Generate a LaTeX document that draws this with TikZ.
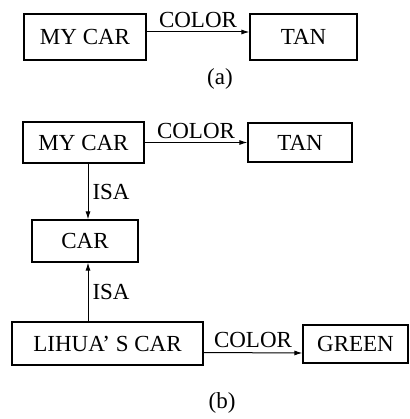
\documentclass[tikz,border=0pt]{standalone}
\usepackage{fontspec}
\setmainfont{Liberation Serif}
\usetikzlibrary{arrows.meta}
\begin{document}
\begin{tikzpicture}[x=1pt,y=-1pt,
  box/.style={draw,line width=1.2pt,inner sep=0pt,font=\fontsize{23}{26}\selectfont},
  lbl/.style={inner sep=0pt,font=\fontsize{23}{26}\selectfont},
  con/.style={line width=1pt,-{Latex[length=8pt,width=5pt]}}]
\useasboundingbox (0,0) rectangle (409,419);
% (a)
\node[box,minimum width=122pt,minimum height=46pt] (a1) at (85,37) {MY CAR};
\node[box,minimum width=107pt,minimum height=46pt] (a2) at (303.5,37) {TAN};
\draw[con] ([yshift=5pt]a1.east) -- node[lbl,above=4pt] (ac) {COLOR} ([yshift=5pt]a2.west);
\node[lbl] (la) at (220,79) {(a)};
% (b)
\node[box,minimum width=121pt,minimum height=41pt] (b1) at (83.5,142.5) {MY CAR};
\node[box,minimum width=104pt,minimum height=39pt] (b2) at (300,142.5) {TAN};
\draw[con] (b1.east) -- node[lbl,above=3pt] (bc) {COLOR} (b2.west);
\node[box,minimum width=106pt,minimum height=42pt] (car) at (85,241) {CAR};
\draw[con] ([xshift=4.5pt]b1.south) -- node[lbl,right=4pt] (isa1) {ISA} ([xshift=3pt]car.north);
\node[box,minimum width=191pt,minimum height=43pt] (li) at (107.5,343.5) {LIHUA’ S CAR};
\node[box,minimum width=105pt,minimum height=38pt] (gr) at (355.5,344) {GREEN};
\draw[con] ([xshift=-19.5pt]li.north) -- node[lbl,right=4pt] (isa2) {ISA} ([xshift=3pt]car.south);
\draw[con] ([yshift=-9pt]li.east) -- node[lbl,above=5pt] (gc) {COLOR} ([yshift=-9pt]gr.west);
\node[lbl] (lb) at (222,403) {(b)};
\end{tikzpicture}
\end{document}
